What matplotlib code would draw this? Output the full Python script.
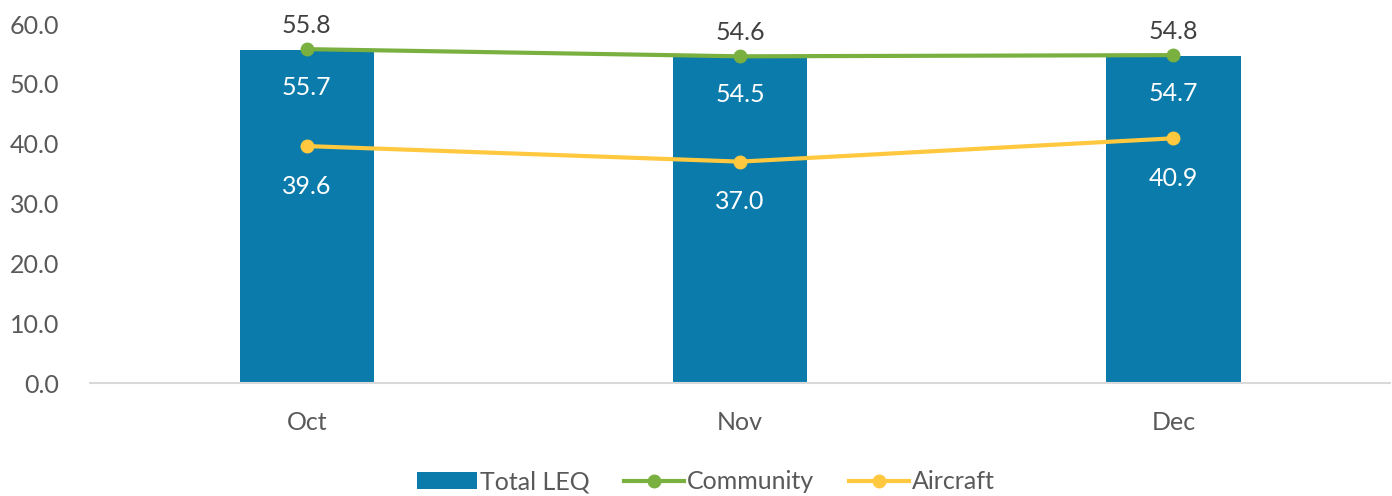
import matplotlib

matplotlib.use("Agg")

import matplotlib.pyplot as plt
import numpy as np

months = ["Oct", "Nov", "Dec"]
total_leq = [55.7, 54.5, 54.7]
community = [55.8, 54.6, 54.8]
aircraft = [39.6, 37.0, 40.9]

BAR_COLOR = "#0A7BAA"
GREEN = "#7AB040"
YELLOW = "#FFC83F"
TEXT = "#595959"

plt.rcParams["font.family"] = ["Lato", "DejaVu Sans"]

fig = plt.figure(figsize=(13.92, 4.96), dpi=100)
ax = fig.add_axes([0.0647, 0.2278, 0.9339, 0.7238])

x = np.arange(len(months))
bars = ax.bar(x, total_leq, width=0.31, color=BAR_COLOR, label="Total LEQ", zorder=2)
l1, = ax.plot(x, community, color=GREEN, linewidth=3, marker="o", markersize=9,
              label="Community", zorder=3)
l2, = ax.plot(x, aircraft, color=YELLOW, linewidth=3, marker="o", markersize=9,
              label="Aircraft", zorder=3)

for xi, v in zip(x, total_leq):
    ax.annotate(f"{v:.1f}", (xi, v), xytext=(0, -27), textcoords="offset points",
                ha="center", va="center", color="white", fontsize=18)
for xi, v in zip(x, community):
    ax.annotate(f"{v:.1f}", (xi, v), xytext=(0, 17), textcoords="offset points",
                ha="center", va="center", color="#404040", fontsize=18)
for xi, v in zip(x, aircraft):
    ax.annotate(f"{v:.1f}", (xi, v), xytext=(0, -29), textcoords="offset points",
                ha="center", va="center", color="white", fontsize=18)

ax.set_xlim(-0.5, 2.5)
ax.set_ylim(0, 60)
ax.set_yticks(np.arange(0, 61, 10))
ax.set_yticklabels([f"{t:.1f}" for t in np.arange(0, 61, 10)])
ax.set_xticks(x)
ax.set_xticklabels(months)
ax.tick_params(axis="both", length=0, labelsize=18, labelcolor=TEXT)
ax.tick_params(axis="x", pad=20)
ax.tick_params(axis="y", pad=22)

for side in ["top", "right", "left"]:
    ax.spines[side].set_visible(False)
ax.spines["bottom"].set_color("#D9D9D9")
ax.spines["bottom"].set_linewidth(1.5)

leg = fig.legend([bars, l1, l2], ["Total LEQ", "Community", "Aircraft"],
                 loc="lower center", bbox_to_anchor=(0.507, -0.04), ncol=3, frameon=False,
                 fontsize=18, handlelength=2.4, handletextpad=0.1, columnspacing=1.4)
for t in leg.get_texts():
    t.set_color(TEXT)

fig.savefig("out.png", dpi=100)
